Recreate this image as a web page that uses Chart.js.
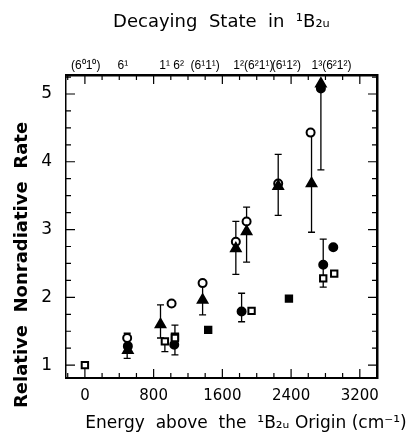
<!DOCTYPE html>
<html><head><meta charset="utf-8">
<script src="https://cdn.jsdelivr.net/npm/chart.js@4"></script>
<style>html,body{margin:0;padding:0;background:#fff}</style>
</head><body>
<canvas id="c" width="419" height="439"></canvas>
<script>
// ---- tick labels ----
const xTickValues = [0, 800, 1600, 2400, 3200];
const yTickValues = [1, 2, 3, 4, 5];
const topTickValues = [10, 442, 1010, 1400, 1961, 2345, 2870];
const topTickLabels = ["(6⁰1⁰)", "6¹", "1¹ 6²", "(6¹1¹)", "1²(6²1¹)", "(6¹1²)", "1³(6²1²)"];

// ---- series (energy cm-1, relative rate) ----
const openCircleX = [492, 1009, 1370, 1757, 1882, 2250, 2627];
const openCircleY = [1.40, 1.91, 2.21, 2.82, 3.12, 3.68, 4.43];
const triangleX = [500, 880, 1370, 1757, 1882, 2250, 2638, 2747];
const triangleY = [1.22, 1.60, 1.96, 2.72, 2.97, 3.64, 3.68, 5.15];
const filledCircleX = [500, 1040, 1824, 2774, 2891, 2747];
const filledCircleY = [1.28, 1.30, 1.79, 2.48, 2.74, 5.08];
const openSquareX = [0, 931, 1048, 1940, 2774, 2902];
const openSquareY = [1.00, 1.35, 1.40, 1.80, 2.28, 2.35];
const filledSquareX = [1048, 1435, 2375];
const filledSquareY = [1.42, 1.52, 1.98];

// ---- error bars ----
const errX    = [0,    492,  880,  931,  1048, 1370, 1757, 1882, 1824, 2250, 2638, 2747, 2774];
const errLow  = [0.97, 1.10, 1.40, 1.20, 1.15, 1.74, 2.34, 2.52, 1.64, 3.21, 2.96, 3.88, 2.15];
const errHigh = [1.03, 1.47, 1.89, 1.37, 1.59, 2.21, 3.12, 3.33, 2.06, 4.11, 4.43, 5.13, 2.86];

const zip = (xs, ys) => xs.map((x, i) => ({x, y: ys[i]}));
const FONT = "'DejaVu Sans', sans-serif";

const errorBars = {
  id: 'errorBars',
  beforeDatasetsDraw(chart) {
    const {ctx} = chart, xs = chart.scales.x, ys = chart.scales.y;
    ctx.save();
    ctx.strokeStyle = '#000';
    ctx.lineWidth = 1.3;
    errX.forEach((x, i) => {
      const px = xs.getPixelForValue(x);
      const lo = ys.getPixelForValue(errLow[i]);
      const hi = ys.getPixelForValue(errHigh[i]);
      ctx.beginPath();
      ctx.moveTo(px, lo); ctx.lineTo(px, hi);
      ctx.moveTo(px - 3.5, lo); ctx.lineTo(px + 3.5, lo);
      ctx.moveTo(px - 3.5, hi); ctx.lineTo(px + 3.5, hi);
      ctx.stroke();
    });
    ctx.restore();
  }
};

const innerTicks = {
  id: 'innerTicks',
  afterDraw(chart) {
    const {ctx, chartArea: a} = chart, xs = chart.scales.x, ys = chart.scales.y;
    ctx.save();
    ctx.strokeStyle = '#000';
    ctx.lineWidth = 1.2;
    ctx.beginPath();
    for (let v = -200; v <= xs.max; v += 200) {
      const p = xs.getPixelForValue(v);
      if (p <= a.left + 1 || p >= a.right - 1) continue;
      const L = (v % 800 === 0) ? 9 : 5;
      ctx.moveTo(p, a.bottom); ctx.lineTo(p, a.bottom - L);
      ctx.moveTo(p, a.top); ctx.lineTo(p, a.top + L);
    }
    for (let v = 1; v <= ys.max; v += 0.25) {
      const p = ys.getPixelForValue(v);
      if (p <= a.top + 1 || p >= a.bottom - 1) continue;
      const L = (Math.abs(v - Math.round(v)) < 1e-6) ? 9 : 5;
      ctx.moveTo(a.left, p); ctx.lineTo(a.left + L, p);
      ctx.moveTo(a.right, p); ctx.lineTo(a.right - L, p);
    }
    ctx.stroke();
    ctx.restore();
  }
};

const freeTitles = {
  id: 'freeTitles',
  afterDraw(chart) {
    const {ctx} = chart;
    ctx.save();
    ctx.fillStyle = '#000';
    ctx.textAlign = 'center';
    ctx.textBaseline = 'middle';
    ctx.font = "17px " + FONT;
    ctx.fillText("Energy  above  the  ¹B₂ᵤ Origin (cm⁻¹)", 246, 424);
    ctx.translate(22, 265);
    ctx.rotate(-Math.PI / 2);
    ctx.font = "bold 18px " + FONT;
    ctx.fillText("Relative  Nonradiative  Rate", 0, 0);
    ctx.restore();
  }
};

const pt = (style, fill, r) => ({
  pointStyle: style, pointRadius: r, pointHoverRadius: r,
  pointBackgroundColor: fill, pointBorderColor: '#000', pointBorderWidth: 2,
  showLine: false
});

new Chart(document.getElementById('c'), {
  type: 'scatter',
  data: {
    datasets: [
      {label: 'open square', data: zip(openSquareX, openSquareY), ...pt('rect', '#fff', 4.5)},
      {label: 'filled square', data: zip(filledSquareX, filledSquareY), ...pt('rect', '#000', 4.5)},
      {label: 'filled circle', data: zip(filledCircleX, filledCircleY), ...pt('circle', '#000', 4)},
      {label: 'triangle', data: zip(triangleX, triangleY), ...pt('triangle', '#000', 5.5)},
      {label: 'open circle', data: zip(openCircleX, openCircleY), ...pt('circle', '#fff', 4)}
    ]
  },
  options: {
    responsive: false,
    animation: false,
    devicePixelRatio: 1,
    layout: {padding: 0},
    plugins: {
      legend: {display: false},
      tooltip: {enabled: false},
      title: {display: false}
    },
    scales: {
      x: {
        type: 'linear', position: 'bottom', min: -220, max: 3400,
        afterBuildTicks: s => { s.ticks = xTickValues.map(v => ({value: v})); },
        afterFit: s => { s.height = 61; },
        grid: {display: false, drawTicks: false},
        border: {display: true, color: '#000', width: 2},
        ticks: {color: '#000', font: {family: FONT, size: 15}, padding: 9, maxRotation: 0, autoSkip: false,
                callback: v => String(v)}
      },
      x2: {
        type: 'linear', position: 'top', min: -220, max: 3400,
        afterBuildTicks: s => { s.ticks = topTickValues.map(v => ({value: v})); },
        afterFit: s => { s.height = 75; },
        grid: {display: false, drawTicks: false},
        border: {display: true, color: '#000', width: 2.5},
        ticks: {
          color: '#000', font: {family: "'Liberation Sans', sans-serif", size: 12}, padding: 2,
          maxRotation: 0, autoSkip: false,
          callback: (v, i) => topTickLabels[i]
        },
        title: {display: true, text: "Decaying  State  in  ¹B₂ᵤ", color: '#000',
                font: {family: FONT, size: 18}, padding: {top: 12, bottom: 16}}
      },
      y: {
        type: 'linear', position: 'left', min: 0.81, max: 5.28,
        afterBuildTicks: s => { s.ticks = yTickValues.map(v => ({value: v})); },
        afterFit: s => { s.width = 66; },
        grid: {display: false, drawTicks: false},
        border: {display: true, color: '#000', width: 1.5},
        ticks: {color: '#000', font: {family: FONT, size: 17}, padding: 14}
      },
      y2: {
        type: 'linear', position: 'right', min: 0.81, max: 5.28,
        afterBuildTicks: s => { s.ticks = []; },
        afterFit: s => { s.width = 42; },
        grid: {display: false, drawTicks: false},
        border: {display: true, color: '#000', width: 2.5},
        ticks: {display: false}
      }
    }
  },
  plugins: [errorBars, innerTicks, freeTitles]
});
</script>
</body></html>
